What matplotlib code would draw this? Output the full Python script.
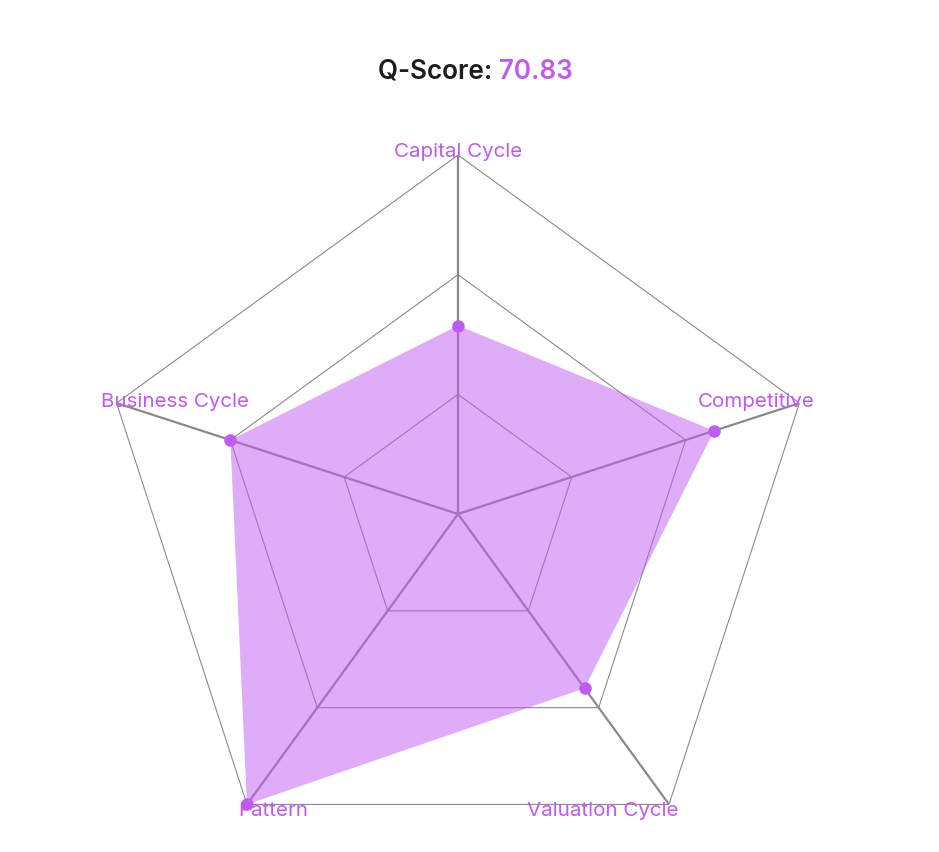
import numpy as np
import matplotlib
matplotlib.use("Agg")
import matplotlib.pyplot as plt

categories = ["Capital Cycle", "Competitive", "Valuation Cycle", "Pattern", "Business Cycle"]
values = [52.5, 75, 60, 100, 66.67]
ring_levels = [33.33, 66.67, 100]
r_max = 100
score = np.mean(values)

PURPLE = "#BF5AF2"
GRID = "#8a8a8a"
DARK = "#1d1d1f"
FONT = ["Inter", "DejaVu Sans"]

W, H = 939, 852
fig = plt.figure(figsize=(W / 100, H / 100), dpi=100)
cx, cy, R = 458, 514, 359
ax = fig.add_axes([(cx - R) / W, 1 - (cy + R) / H, 2 * R / W, 2 * R / H], projection="polar")
ax.set_theta_offset(np.pi / 2)
ax.set_theta_direction(-1)
ax.set_ylim(0, r_max)
ax.axis("off")

n = len(categories)
theta = np.arange(n) * 2 * np.pi / n
closed_t = np.append(theta, theta[0])

for lvl in ring_levels:
    ax.plot(closed_t, [lvl] * (n + 1), color=GRID, lw=0.8, zorder=1)
for t in theta:
    ax.plot([t, t], [0, r_max], color=GRID, lw=1.6, zorder=1, solid_capstyle="butt")

vals_closed = values + values[:1]
ax.fill(closed_t, vals_closed, color=PURPLE, alpha=0.5, lw=0, zorder=2)
ax.plot(theta, values, "o", color=PURPLE, ms=8, zorder=3, clip_on=False)

offsets = [(0, 3), (-43, 1), (-66, -7), (26, -7), (58, 1)]
for t, lab, off in zip(theta, categories, offsets):
    ax.annotate(lab, xy=(t, r_max), xytext=off, textcoords="offset pixels",
                ha="center", va="center", color=PURPLE, fontsize=14.8,
                family=FONT, annotation_clip=False)

# title
fig.canvas.draw()
r = fig.canvas.get_renderer()
t1 = fig.text(0, 0, "Q-Score: ", fontsize=18.8, fontweight="semibold", color=DARK, family=FONT)
t2 = fig.text(0, 0, f"{score:.2f}", fontsize=18.8, fontweight="semibold", color=PURPLE, family=FONT)
w1 = t1.get_window_extent(r).width
w2 = t2.get_window_extent(r).width
x0 = 475 - (w1 + w2) / 2
ty = 1 - 72 / H
t1.set_position((x0 / W, ty)); t1.set_va("center")
t2.set_position(((x0 + w1) / W, ty)); t2.set_va("center")

fig.savefig("out.png", dpi=100, facecolor="white")
